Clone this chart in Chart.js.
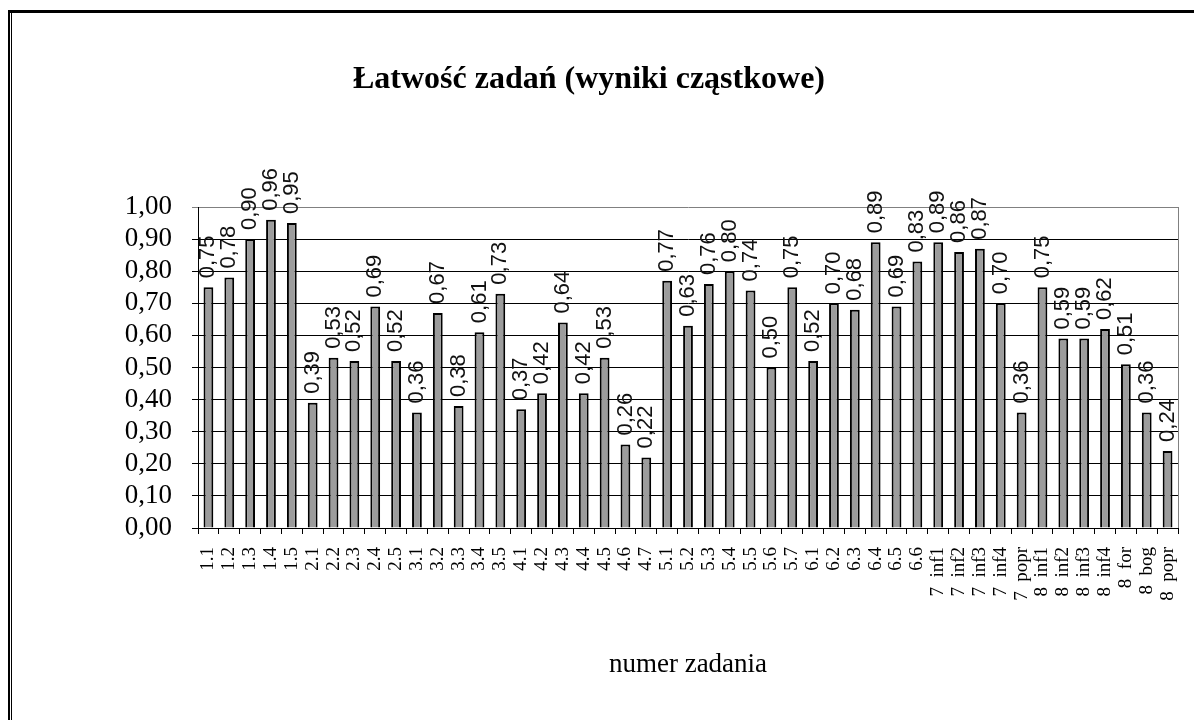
<!DOCTYPE html>
<html>
<head>
<meta charset="utf-8">
<script src="https://cdn.jsdelivr.net/npm/chart.js@4"></script>
<style>
  html, body { margin: 0; padding: 0; background: #fff; }
  #wrap { position: relative; width: 1194px; height: 720px; overflow: hidden; }
  #c { position: absolute; left: 0; top: 0; }
  .frame1 { position: absolute; left: 8px; top: 10px; right: -10px; bottom: -10px; border-left: 2px solid #000; border-top: 3px solid #000; pointer-events: none; }
  .frame2 { position: absolute; left: 11px; top: 13px; right: -10px; bottom: -10px; border-left: 1px solid #000; pointer-events: none; }
</style>
</head>
<body>
<div id="wrap">
  <canvas id="c" width="1194" height="720"></canvas>
  <div class="frame1"></div>
  <div class="frame2"></div>
</div>
<script>
const chartTitle = 'Łatwość zadań (wyniki cząstkowe)';
const axisTitle = 'numer zadania';
const categories = [
  '1.1','1.2','1.3','1.4','1.5',
  '2.1','2.2','2.3','2.4','2.5',
  '3.1','3.2','3.3','3.4','3.5',
  '4.1','4.2','4.3','4.4','4.5','4.6','4.7',
  '5.1','5.2','5.3','5.4','5.5','5.6','5.7',
  '6.1','6.2','6.3','6.4','6.5','6.6',
  '7  inf1','7  inf2','7  inf3','7  inf4','7  popr',
  '8  inf1','8  inf2','8  inf3','8  inf4','8  for','8  bog','8  popr'
];
const values = [
  0.75, 0.78, 0.90, 0.96, 0.95,
  0.39, 0.53, 0.52, 0.69, 0.52,
  0.36, 0.67, 0.38, 0.61, 0.73,
  0.37, 0.42, 0.64, 0.42, 0.53, 0.26, 0.22,
  0.77, 0.63, 0.76, 0.80, 0.74, 0.50, 0.75,
  0.52, 0.70, 0.68, 0.89, 0.69, 0.83,
  0.89, 0.86, 0.87, 0.70, 0.36,
  0.75, 0.59, 0.59, 0.62, 0.51, 0.36, 0.24
];
const yMin = 0, yMax = 1, yStep = 0.1;

const fmt = v => Number(v).toFixed(2).replace('.', ',');

const dataLabels = {
  id: 'dataLabels',
  afterDatasetsDraw(chart) {
    const ctx = chart.ctx;
    const meta = chart.getDatasetMeta(0);
    ctx.save();
    ctx.font = '22px "Liberation Sans", Arial, sans-serif';
    ctx.fillStyle = '#111';
    ctx.textAlign = 'left';
    ctx.textBaseline = 'middle';
    meta.data.forEach((el, i) => {
      ctx.save();
      ctx.translate(el.x, el.y - 9);
      ctx.rotate(-Math.PI / 2);
      ctx.fillText(fmt(values[i]), 0, 0);
      ctx.restore();
    });
    ctx.restore();
  }
};

const plotBorder = {
  id: 'plotBorder',
  beforeDatasetsDraw(chart) {
    const {ctx, chartArea: a} = chart;
    ctx.save();
    ctx.strokeStyle = '#808080';
    ctx.lineWidth = 1;
    ctx.beginPath();
    ctx.moveTo(Math.round(a.right) + 0.5, a.top);
    ctx.lineTo(Math.round(a.right) + 0.5, a.bottom);
    ctx.stroke();
    ctx.restore();
  }
};

new Chart(document.getElementById('c'), {
  type: 'bar',
  data: {
    labels: categories,
    datasets: [{
      data: values,
      backgroundColor: '#9c9c9c',
      borderColor: '#000',
      borderWidth: 2,
      barPercentage: 0.47,
      categoryPercentage: 1.0
    }]
  },
  options: {
    responsive: false,
    animation: false,
    devicePixelRatio: 1,
    layout: { padding: { left: 0, right: 16, top: 0, bottom: 0 } },
    plugins: {
      legend: { display: false },
      tooltip: { enabled: false },
      title: {
        display: true,
        text: chartTitle,
        color: '#000',
        font: { family: '"Liberation Serif", "Times New Roman", serif', size: 32, weight: 'bold', lineHeight: 1.2 },
        padding: { top: 61, bottom: 107.6 }
      }
    },
    scales: {
      x: {
        grid: { offset: true, drawOnChartArea: false, color: '#000', tickColor: '#000', tickLength: 6 },
        border: { color: '#000', width: 1 },
        ticks: {
          autoSkip: false, maxRotation: 90, minRotation: 90, padding: 13,
          color: '#000',
          font: { family: '"Liberation Serif", "Times New Roman", serif', size: 19 }
        },
        title: {
          display: true,
          text: axisTitle,
          color: '#000',
          font: { family: '"Liberation Serif", "Times New Roman", serif', size: 27 },
          padding: { top: 0, bottom: 39 }
        },
        afterFit(s) { s.height = 192; s.paddingLeft = 0; s.paddingRight = 0; }
      },
      y: {
        min: yMin, max: yMax,
        ticks: {
          stepSize: yStep,
          padding: 20,
          color: '#000',
          font: { family: '"Liberation Serif", "Times New Roman", serif', size: 27, lineHeight: 1 },
          callback: v => fmt(v)
        },
        grid: {
          color: c => (c.tick && Math.abs(c.tick.value - yMax) < 1e-9) ? '#808080' : '#000',
          tickLength: 6,
          lineWidth: 1
        },
        border: { color: '#000', width: 1 },
        afterFit(s) { s.width = 198; s.paddingTop = 0; s.paddingBottom = 0; }
      }
    }
  },
  plugins: [dataLabels, plotBorder]
});
</script>
</body>
</html>
